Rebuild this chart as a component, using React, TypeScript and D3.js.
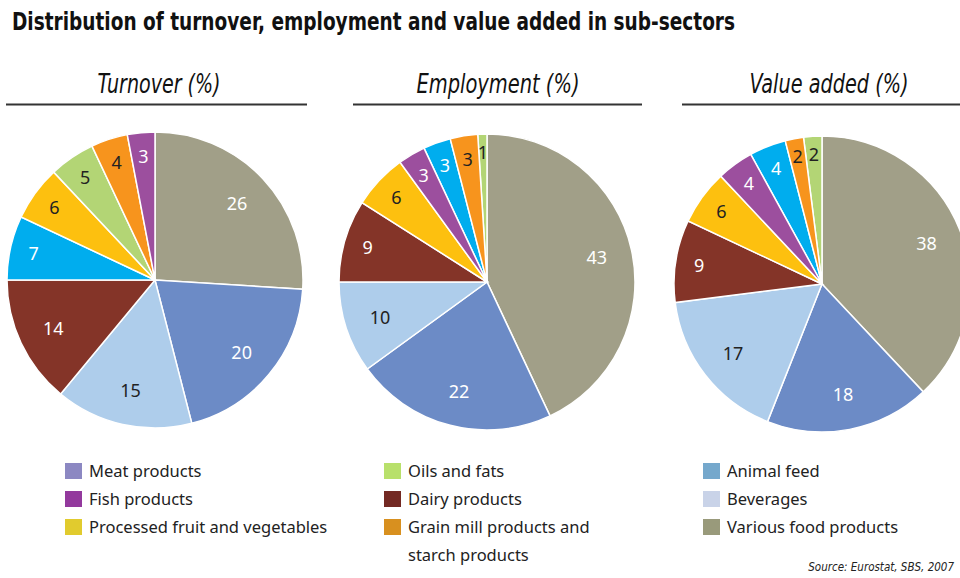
import React from 'react';
import * as d3 from 'd3';

// Slices in drawing order (largest first, clockwise from 12 o'clock)
const sectors = [
  'Various food products',
  'Meat products',
  'Beverages',
  'Dairy products',
  'Animal feed',
  'Processed fruit and vegetables',
  'Oils and fats',
  'Grain mill products and starch products',
  'Fish products',
];
const sliceColors = ['#a19f88', '#6c8bc6', '#aecdeb', '#843428', '#00adee', '#fdc00f', '#b3d575', '#f7941d', '#9c4f9e'];
const labelColors = ['#ffffff', '#ffffff', '#222222', '#ffffff', '#ffffff', '#222222', '#222222', '#222222', '#ffffff'];
const tieRank = [0, 0, 0, 0, 1, 0, 3, 2, 0];

const turnover = [26, 20, 15, 14, 7, 6, 5, 4, 3];
const employment = [43, 22, 10, 9, 3, 6, 1, 3, 3];
const valueAdded = [38, 18, 17, 9, 4, 6, 2, 2, 4];
const panelTitles = ['Turnover (%)', 'Employment (%)', 'Value added (%)'];

const legendColumns = [
  ['Meat products', 'Fish products', 'Processed fruit and vegetables'],
  ['Oils and fats', 'Dairy products', 'Grain mill products and starch products'],
  ['Animal feed', 'Beverages', 'Various food products'],
];
const legendSwatch: Record<string, string> = {
  'Meat products': '#8c88c2',
  'Fish products': '#93399d',
  'Processed fruit and vegetables': '#e1cb2e',
  'Oils and fats': '#b8e06b',
  'Dairy products': '#732923',
  'Grain mill products and starch products': '#d8901f',
  'Animal feed': '#75a8cc',
  Beverages: '#c9d3e8',
  'Various food products': '#999a7b',
};

const title = 'Distribution of turnover, employment and value added in sub-sectors';
const source = 'Source: Eurostat, SBS, 2007';

const panels = [
  { values: turnover, cx: 155, cy: 280, lineX0: 6, lineX1: 307, titleX: 159, titleLen: 123 },
  { values: employment, cx: 487, cy: 282, lineX0: 353, lineX1: 642, titleX: 498, titleLen: 163 },
  { values: valueAdded, cx: 822, cy: 284, lineX0: 682, lineX1: 960, titleX: 829, titleLen: 159 },
];

const R = 148;
const narrow = '"Liberation Sans Narrow", "DejaVu Sans Condensed", "Arial Narrow", sans-serif';
const body = '"Noto Sans", "Open Sans", sans-serif';

type Slice = { idx: number; value: number };

function Pie({ values, cx, cy }: { values: number[]; cx: number; cy: number }) {
  const data: Slice[] = values.map((v, i) => ({ idx: i, value: v }));
  const pie = d3
    .pie<Slice>()
    .value((d) => d.value)
    .sort((a, b) => b.value - a.value || tieRank[a.idx] - tieRank[b.idx]);
  const arcs = pie(data);
  const arc = d3.arc<d3.PieArcDatum<Slice>>().innerRadius(0).outerRadius(R);
  return (
    <g transform={`translate(${cx},${cy})`}>
      {arcs.map((a) => (
        <path key={a.data.idx} d={arc(a) || ''} fill={sliceColors[a.data.idx]} stroke="#ffffff" strokeWidth={1.5} />
      ))}
      {arcs.map((a) => {
        const v = a.data.value;
        const lr = v >= 10 ? R * 0.76 : v >= 3 ? R * 0.84 : R * 0.88;
        const la = d3.arc<d3.PieArcDatum<Slice>>().innerRadius(lr).outerRadius(lr);
        const [x, y] = la.centroid(a);
        return (
          <text
            key={'t' + a.data.idx}
            x={x}
            y={y}
            textAnchor="middle"
            dominantBaseline="central"
            fontFamily={body}
            fontSize={18}
            fill={labelColors[a.data.idx]}
          >
            {v}
          </text>
        );
      })}
    </g>
  );
}

export default function App() {
  const rowPitch = 28;
  const legendX = [65, 384, 703];
  const legendY0 = 463;
  return (
    <svg width={960} height={578} style={{ position: 'absolute', left: 0, top: 0, background: '#fff' }}>
      <rect x={0} y={0} width={960} height={578} fill="#ffffff" />
      <text x={12} y={30} fontFamily={narrow} fontWeight="bold" fontSize={24} fill="#111" textLength={723} lengthAdjust="spacingAndGlyphs">
        {title}
      </text>
      {panels.map((p, i) => (
        <g key={i}>
          <text
            x={p.titleX}
            y={93}
            textAnchor="middle"
            fontFamily={narrow}
            fontStyle="italic"
            fontSize={26}
            fill="#111"
            textLength={p.titleLen}
            lengthAdjust="spacingAndGlyphs"
          >
            {panelTitles[i]}
          </text>
          <line x1={p.lineX0} x2={p.lineX1} y1={104.5} y2={104.5} stroke="#333" strokeWidth={2} />
          <Pie values={p.values} cx={p.cx} cy={p.cy} />
        </g>
      ))}
      {legendColumns.map((col, ci) => (
        <g key={ci}>
          {col.map((name, ri) => {
            const y = legendY0 + ri * rowPitch;
            const parts =
              name === 'Grain mill products and starch products'
                ? ['Grain mill products and', 'starch products']
                : [name];
            return (
              <g key={name}>
                <rect x={legendX[ci]} y={y} width={17} height={16} fill={legendSwatch[name]} />
                {parts.map((t, k) => (
                  <text
                    key={k}
                    x={legendX[ci] + 24}
                    y={y + 14 + k * rowPitch}
                    fontFamily={body}
                    fontSize={16.5}
                    fill="#222"
                  >
                    {t}
                  </text>
                ))}
              </g>
            );
          })}
        </g>
      ))}
      <text x={954} y={571} textAnchor="end" fontFamily={narrow} fontStyle="italic" fontSize={11.5} fill="#222">
        {source}
      </text>
      {sectors.length === 0 ? null : null}
    </svg>
  );
}
